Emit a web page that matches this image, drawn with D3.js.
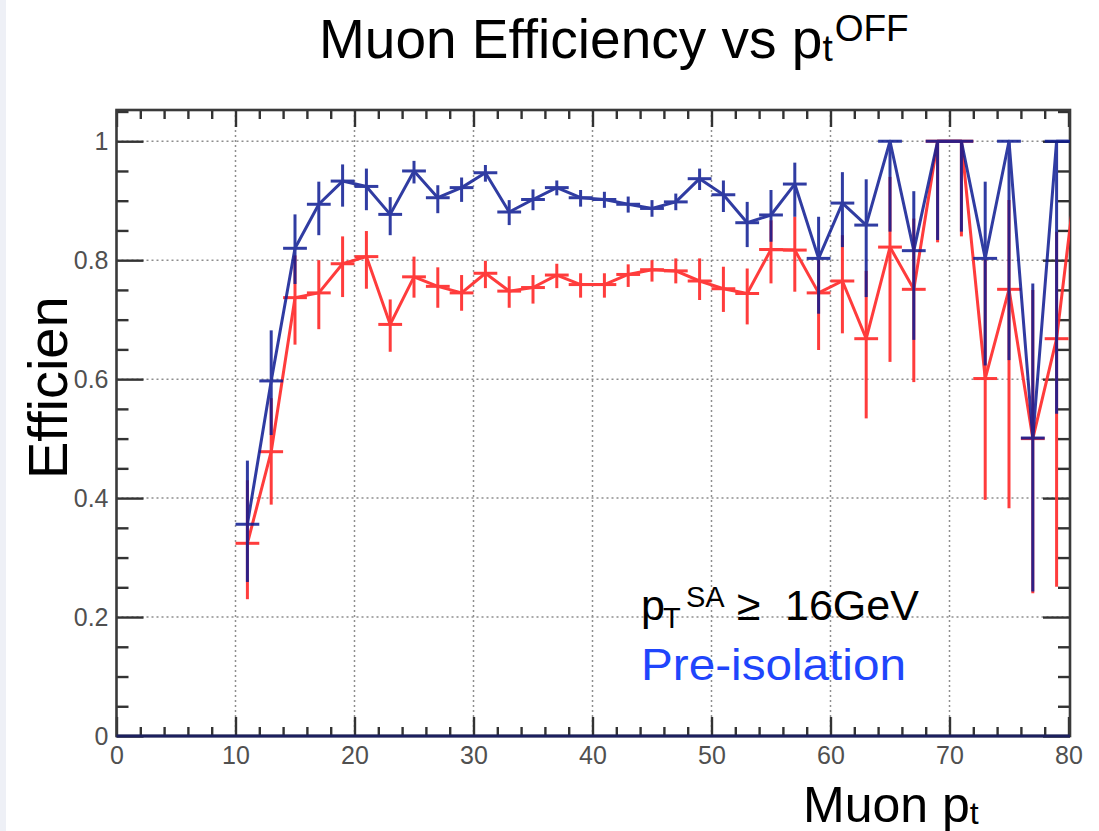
<!DOCTYPE html>
<html>
<head>
<meta charset="utf-8">
<script src="https://cdn.jsdelivr.net/npm/d3@7"></script>
<style>
  body { margin: 0; background: #fff; }
  svg { display: block; }
  text { font-family: "Liberation Sans", Helvetica, Arial, sans-serif; }
</style>
</head>
<body>
<div id="chart"></div>
<script>
// bin centres (2 GeV bins)
var ptCenters = [11,13,15,17,19,21,23,25,27,29,31,33,35,37,39,41,43,45,47,49,51,53,55,57,59,61,63,65,67,69,71,73,75,77,79];

// pre-isolation (blue)
var blueEff = [0.356,0.597,0.820,0.894,0.933,0.924,0.877,0.950,0.905,
  0.922,0.947,0.881,0.902,0.922,0.905,0.902,0.894,0.887,0.898,0.937,0.910,0.863,0.876,
  0.928,0.803,0.896,0.859,1.0,0.816,1.0,1.0,0.803,1.0,0.501,1.0];
var blueErrUp = [0.107,0.085,0.057,0.038,0.028,0.030,0.029,0.017,0.021,
  0.017,0.013,0.020,0.017,0.012,0.013,0.013,0.013,0.014,0.014,0.017,0.024,0.035,0.042,
  0.036,0.070,0.052,0.077,0,0.100,0,0,0.129,0,0.26,0];
var blueErrLow = [0.097,0.091,0.060,0.052,0.043,0.040,0.035,0.021,0.026,
  0.024,0.015,0.022,0.018,0.013,0.015,0.014,0.014,0.014,0.014,0.019,0.029,0.041,0.045,
  0.055,0.093,0.074,0.121,0.152,0.150,0.166,0.152,0.18,0.368,0.258,0.458];

// after isolation (red)
var redEff = [0.324,0.478,0.737,0.745,0.794,0.806,0.692,0.772,0.756,
  0.745,0.778,0.748,0.754,0.775,0.759,0.759,0.776,0.784,0.782,0.765,0.752,0.744,0.818,
  0.817,0.745,0.765,0.668,0.822,0.751,1.0,1.0,0.601,0.751,0.5,0.668];
var redErrUp = [0.106,0.090,0.071,0.055,0.046,0.043,0.042,0.034,0.032,
  0.030,0.021,0.025,0.021,0.019,0.019,0.019,0.017,0.016,0.021,0.038,0.037,0.042,0.049,
  0.056,0.055,0.077,0.114,0.118,0.119,0,0,0.2,0.15,0.25,0.18];
var redErrLow = [0.094,0.089,0.079,0.061,0.056,0.054,0.046,0.035,0.036,
  0.030,0.025,0.028,0.027,0.022,0.022,0.022,0.021,0.020,0.021,0.032,0.039,0.052,0.057,
  0.070,0.096,0.088,0.134,0.193,0.156,0.17,0.16,0.204,0.368,0.26,0.417];

// next bin past the axis end, only its connecting line shows (clipped)
var overflowPt = 81, blueOverflow = 1.0, redOverflow = 1.0;

var xMajor = [0,10,20,30,40,50,60,70,80];
var yMajor = [0,0.2,0.4,0.6,0.8,1];
var binHalf = 1;

var W = 1099, H = 831;
var fl = 116.5, fr = 1070, ft = 110, fb = 736;

var svg = d3.select("#chart").append("svg").attr("width", W).attr("height", H);

svg.append("rect").attr("x",0).attr("y",0).attr("width",W).attr("height",H).attr("fill","#fff");
svg.append("rect").attr("x",0).attr("y",0).attr("width",6).attr("height",H).attr("fill","#eef0f6");

var x = d3.scaleLinear().domain([0,80]).range([fl, 1068.5]);
var y = d3.scaleLinear().domain([0,1.0525]).range([fb, ft]);

var xMinor = d3.range(0,81,2).filter(function(d){ return d % 10 != 0; });
var yMinor = d3.range(0,1.051,0.05).filter(function(d){ return Math.abs(d*5 - Math.round(d*5)) > 1e-6; });

// grid
var grid = svg.append("g").attr("class","grid")
  .attr("stroke","#8e8e8e").attr("stroke-width",1.5).attr("stroke-dasharray","2,3");
grid.selectAll(".gx").data(xMajor.slice(1,-1)).enter().append("line")
  .attr("x1",function(d){return x(d);}).attr("x2",function(d){return x(d);})
  .attr("y1",ft).attr("y2",fb);
grid.selectAll(".gy").data(yMajor.slice(1)).enter().append("line")
  .attr("x1",fl).attr("x2",fr)
  .attr("y1",function(d){return y(d);}).attr("y2",function(d){return y(d);});

function styleAxis(g){
  g.select(".domain").remove();
  g.selectAll(".tick line").attr("stroke","#333").attr("stroke-width",2.4);
  g.selectAll(".tick text").attr("fill","#505050").attr("font-size",25)
    .attr("font-family","'Liberation Sans', Helvetica, Arial, sans-serif");
}

// bottom axis
svg.append("g").attr("transform","translate(0,"+fb+")")
  .call(d3.axisBottom(x).tickValues(xMajor).tickSize(-19).tickPadding(10).tickFormat(d3.format("d")))
  .call(styleAxis);
svg.append("g").attr("transform","translate(0,"+fb+")")
  .call(d3.axisBottom(x).tickValues(xMinor).tickSize(-9).tickFormat(""))
  .call(styleAxis);
// top axis
svg.append("g").attr("transform","translate(0,"+ft+")")
  .call(d3.axisTop(x).tickValues(xMajor).tickSize(-17).tickFormat(""))
  .call(styleAxis);
svg.append("g").attr("transform","translate(0,"+ft+")")
  .call(d3.axisTop(x).tickValues(xMinor).tickSize(-9).tickFormat(""))
  .call(styleAxis);
// left axis
svg.append("g").attr("transform","translate("+fl+",0)")
  .call(d3.axisLeft(y).tickValues(yMajor).tickSize(-27).tickPadding(8).tickFormat(d3.format("~g")))
  .call(styleAxis);
svg.append("g").attr("transform","translate("+fl+",0)")
  .call(d3.axisLeft(y).tickValues(yMinor).tickSize(-12).tickFormat(""))
  .call(styleAxis);
// right axis
svg.append("g").attr("transform","translate("+fr+",0)")
  .call(d3.axisRight(y).tickValues(yMajor).tickSize(-27).tickFormat(""))
  .call(styleAxis);
svg.append("g").attr("transform","translate("+fr+",0)")
  .call(d3.axisRight(y).tickValues(yMinor).tickSize(-12).tickFormat(""))
  .call(styleAxis);

// frame
svg.append("rect").attr("x",fl).attr("y",ft).attr("width",fr-fl).attr("height",fb-ft)
  .attr("fill","none").attr("stroke","#3a3a3a").attr("stroke-width",2.6);
svg.append("line").attr("x1",fl).attr("x2",fr).attr("y1",fb).attr("y2",fb)
  .attr("stroke","#1b1f5e").attr("stroke-width",3.2);

svg.append("clipPath").attr("id","frameClip").append("rect")
  .attr("x",fl).attr("y",ft-4).attr("width",fr-fl).attr("height",fb-ft+4);

function drawSeries(eff, up, low, over, color, opacity){
  var pts = ptCenters.map(function(c,i){ return {x:c, v:eff[i], up:up[i], low:low[i]}; });
  var g = svg.append("g").attr("clip-path","url(#frameClip)")
    .attr("stroke",color).attr("stroke-width",3).attr("fill","none").attr("opacity",opacity);

  var line = d3.line().x(function(d){return x(d.x);}).y(function(d){return y(d.v);});
  g.append("path").datum(pts.concat([{x:overflowPt, v:over}])).attr("d",line)
    .attr("stroke-linejoin","round");

  g.selectAll(".ex").data(pts).enter().append("line")
    .attr("x1",function(d){return x(d.x-binHalf);})
    .attr("x2",function(d){return x(d.x+binHalf);})
    .attr("y1",function(d){return y(d.v);}).attr("y2",function(d){return y(d.v);});
  g.selectAll(".ey").data(pts).enter().append("line")
    .attr("x1",function(d){return x(d.x);}).attr("x2",function(d){return x(d.x);})
    .attr("y1",function(d){return y(d.v+d.up);})
    .attr("y2",function(d){return y(d.v-d.low);});
}

drawSeries(redEff, redErrUp, redErrLow, redOverflow, "#ff3232", 0.95);
drawSeries(blueEff, blueErrUp, blueErrLow, blueOverflow, "#0c1a92", 0.85);

// title
var title = svg.append("text").attr("x",319).attr("y",58).attr("font-size",55).attr("fill","#000");
title.append("tspan").text("Muon Efficiency vs p");
title.append("tspan").attr("font-size",37).attr("dy",3).text("t");
title.append("tspan").attr("font-size",37).attr("dx",2).attr("dy",-20).text("OFF");

// y title
svg.append("text").attr("transform","translate(67,479) rotate(-90)")
  .attr("font-size",56).attr("fill","#000").text("Efficien");

// x title (bottom of the descender runs off the picture, as in the original)
var xt = svg.append("text").attr("x",803).attr("y",822).attr("font-size",50).attr("fill","#000");
xt.append("tspan").text("Muon p");
xt.append("tspan").attr("font-size",32).attr("dy",2).text("t");

// annotations
var a1 = svg.append("text").attr("y",620).attr("font-size",43).attr("fill","#000");
a1.append("tspan").attr("x",641).text("p");
a1.append("tspan").attr("x",663).attr("y",628).attr("font-size",29).text("T");
a1.append("tspan").attr("x",686).attr("y",607).attr("font-size",29).text("SA");
a1.append("tspan").attr("x",737).attr("y",620).text("\u2265");
a1.append("tspan").attr("x",785).attr("y",620).text("16GeV");

svg.append("text").attr("x",641).attr("y",680).attr("font-size",44).attr("fill","#1f45fc")
  .attr("textLength",265).attr("lengthAdjust","spacingAndGlyphs").text("Pre-isolation");
</script>
</body>
</html>
